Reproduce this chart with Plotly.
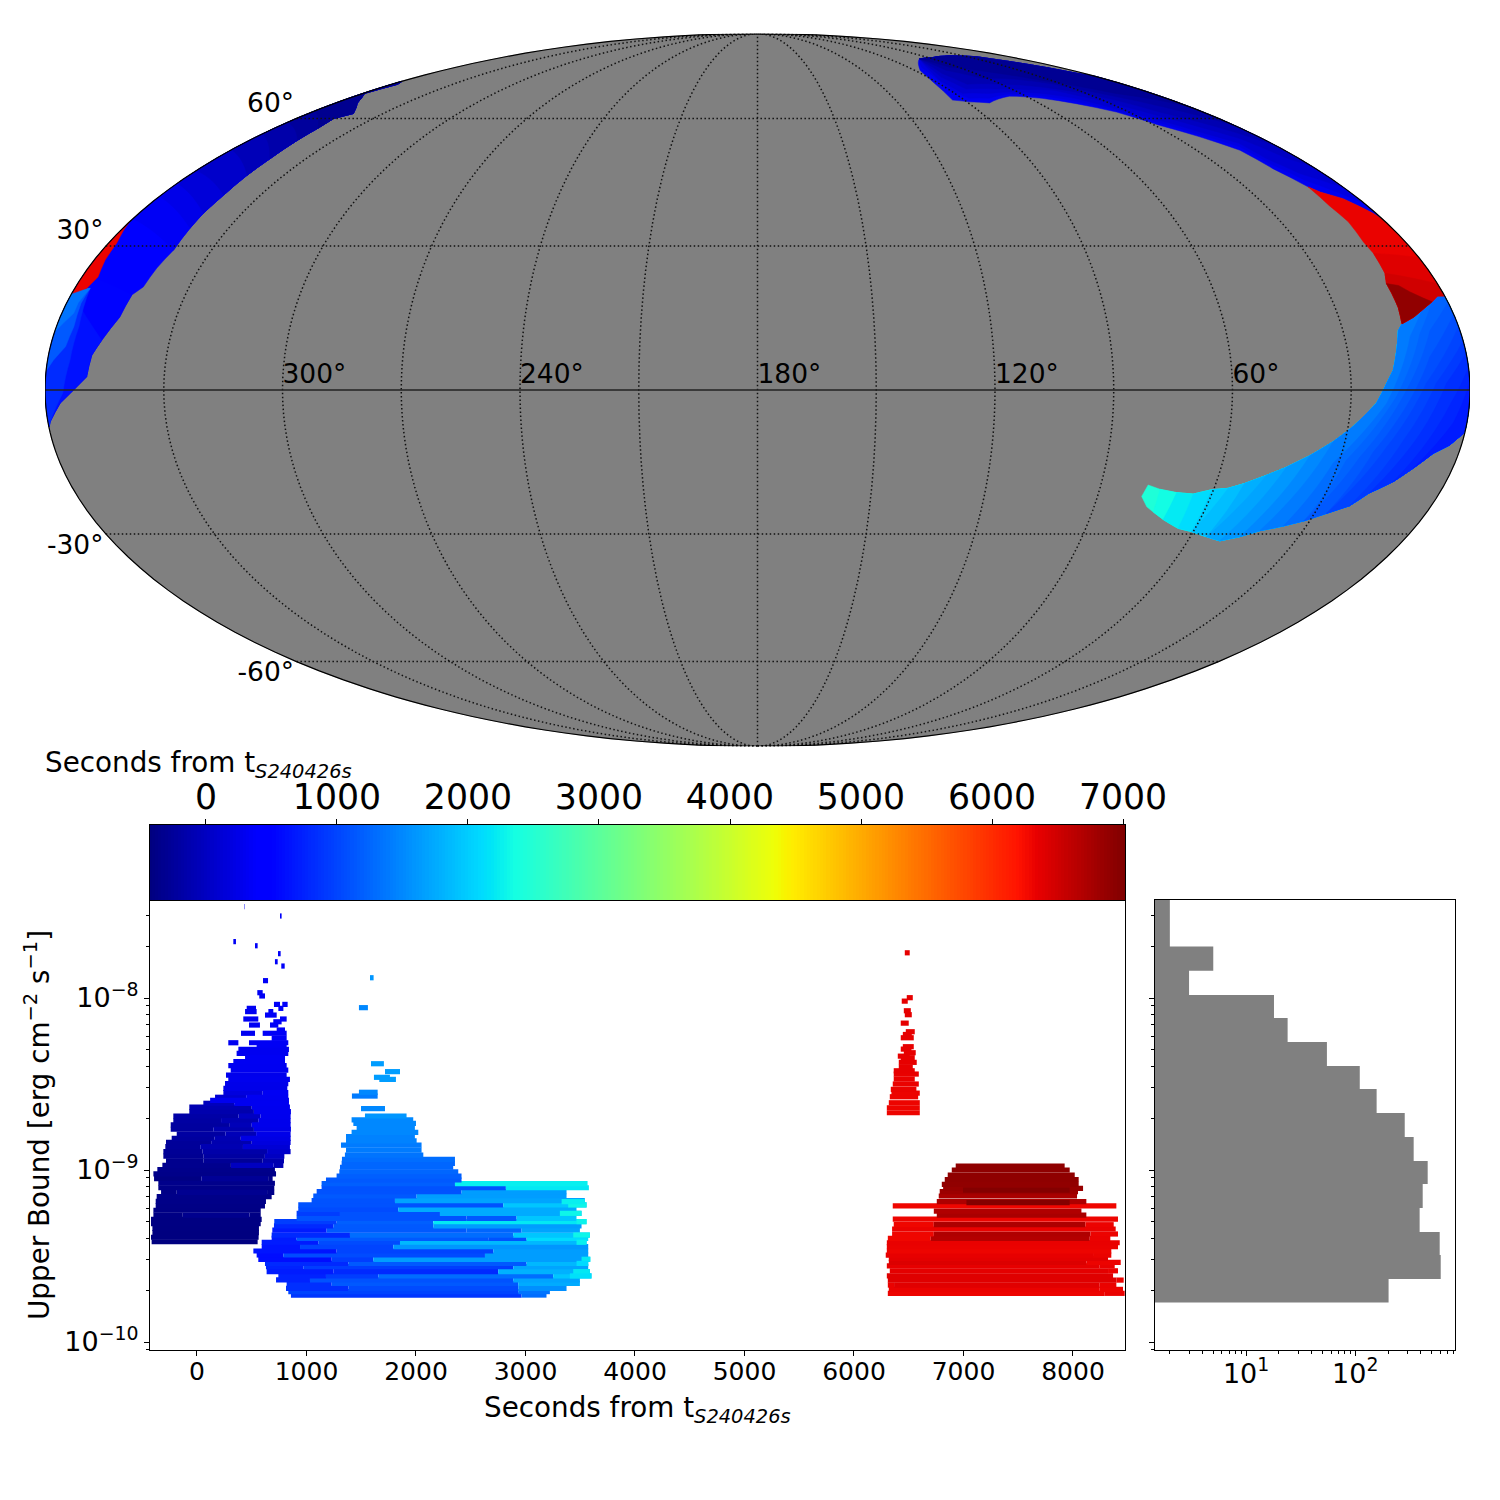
import numpy as np
import plotly.graph_objects as go
from plotly.colors import sample_colorscale

# ---------- shared scales ----------
T_MIN, T_MAX = -427, 7015
JET = [[0, "rgb(0,0,127)"], [.11, "rgb(0,0,255)"], [.125, "rgb(0,0,255)"], [.34, "rgb(0,219,255)"],
       [.35, "rgb(0,229,247)"], [.375, "rgb(21,255,226)"], [.64, "rgb(238,255,8)"], [.65, "rgb(247,245,0)"],
       [.66, "rgb(255,236,0)"], [.89, "rgb(255,19,0)"], [.91, "rgb(232,0,0)"], [1, "rgb(127,0,0)"]]
TICKS_COLORBAR = [0, 1000, 2000, 3000, 4000, 5000, 6000, 7000]
TICKS_TIME = [0, 1000, 2000, 3000, 4000, 5000, 6000, 7000, 8000]
TICKS_UB = [1e-10, 1e-9, 1e-8]
TICKTEXT_UB = ["10<sup>−10</sup>", "10<sup>−9</sup>", "10<sup>−8</sup>"]
TICKS_COUNT = [10, 100]
TICKTEXT_COUNT = ["10<sup>1</sup>", "10<sup>2</sup>"]
GRAY = "#808080"
FONT = "DejaVu Sans"

# ---------- sky map data (map longitude = 180 - RA, seconds as colour) ----------
EDGE = 179.9
# dark/bright blue ribbon upper right
ribbon_r_top = [(111, 77.9), (123.6, 78.4), (156.6, 78.7), (164.4, 77), (172, 74.8), (176.4, 72.9), (EDGE, 72)]
ribbon_r_bottom = [(EDGE, 35.9), (179.1, 37.2), (175.4, 40.5), (171, 42), (169.3, 43.2), (166.2, 47.4), (164.8, 51.9),
                   (158.7, 55.3), (151.7, 58.2), (145, 61.7), (135.3, 64), (125.2, 65.5), (112.5, 66.1), (99, 64.2),
                   (91, 64.5), (84.8, 65), (88, 70), (92.6, 73.8)]
# inner colour lines, brightest first: (seconds, line)
ribbon_r_lines = [
    (200, [(98, 75), (90, 68), (93, 65.5), (102, 65.5), (114, 66.7), (127, 66.2), (137, 64.8), (146, 62), (153.5, 58.9),
           (160, 55.9), (166.7, 52.8), (167.7, 48.6), (171, 44.8), (EDGE, 39.5)]),
    (100, [(104, 76.1), (92.9, 70.7), (93.6, 66.9), (105.7, 66.9), (116.2, 67.3), (129.9, 66.9), (139.8, 65.5),
           (147.7, 62.5), (155.5, 59.5), (161.9, 56.5), (168.6, 53.6), (169.1, 49.8), (172.5, 46.3), (EDGE, 43)]),
    (0, [(105.8, 76.4), (97, 71.8), (98.5, 68.2), (112.5, 68.2), (126.5, 68), (138.5, 67.8), (143.5, 66.4), (151.6, 63.7),
         (159, 60.6), (165.7, 57.7), (172, 54.8), (176, 50), (EDGE, 48)]),
    (-100, [(107.7, 76.8), (101.7, 72.9), (103.2, 69.6), (119.6, 69.6), (137, 68.7), (146.9, 67.3), (155.6, 65),
            (162.4, 61.7), (169.5, 59), (175.4, 56), (EDGE, 53)]),
    (-200, [(110, 77), (108, 74), (117.5, 71.4), (132.5, 71.2), (146, 69.7), (150.9, 68.2), (159.5, 66), (168.4, 63.3), (EDGE, 58)]),
    (-300, [(112, 77.3), (114.7, 75), (131.6, 73.2), (145.5, 70.7), (154.9, 69), (163.3, 66.9), (174.3, 65), (EDGE, 63)]),
]
RIBBON_R_BASE_TIME = 300

# blue ribbon upper left, inner boundary from the top
ribbon_l_inner = [(-177.1, 69.6), (-179.2, 66.9), (-170.4, 64.1), (-161.9, 61.3), (-165.4, 60), (-163.7, 57.4),
                  (-163, 54.4), (-161.9, 49.8), (-161.6, 45.9), (-161.1, 41.3), (-161.2, 37.2), (-160.9, 33.9),
                  (-160.4, 29.1), (-161.5, 25.3), (-162.1, 21.3), (-164, 19.6), (-164.6, 15), (-167.3, 10.2),
                  (-169, 7.1), (-169.6, 2.7), (-172.8, 0), (-176.3, -2.7), (-179.4, -6.5)]
# (last inner index, latitude where the band reaches the rim, seconds)
ribbon_l_bands = [(12, 36, 330), (11, 41, 250), (10, 44, 150), (9, 47, 50), (8, 52, -60), (7, 56, -150), (6, 59, -240), (5, 62, -320)]
ribbon_l_low_a = [(-175.9, 21), (-174.2, 13), (-174.3, 6.1), (-175.5, -0.6), (-179.4, -6.5)]
ribbon_l_low_b = [(-175.9, 21), (-176.2, 17.9), (-175.5, 13), (-176.1, 8.9), (-178.5, 6.1)]
ribbon_l_low_c = [(-175.9, 21), (-177, 18), (-176.9, 15.8)]
red_left = [(-179.2, 33.5), (-177.7, 30.7), (-177, 27), (-175.7, 23.4), (-176.8, 21), (-179.6, 20)]

# red patch on the right
red_right_top = [(169.3, 43.2), (171, 42), (175.4, 40.5), (179.1, 37.2), (EDGE, 35.9), (EDGE, 19.4)]
red_right_low = [(178.1, 19.4), (175.9, 18.2), (172.2, 16.4), (169.4, 15), (165.7, 13.6), (166.4, 17), (166.5, 20),
                 (166.5, 22), (167.8, 24.2), (168.5, 28.4), (168.3, 30.9), (169.3, 35.3), (168.8, 38.9)]
red_mid = [(168.5, 28.4), (EDGE, 27.5), (EDGE, 19.4), (178.1, 19.4), (175.9, 18.2), (172.2, 16.4), (169.4, 15),
           (165.7, 13.6), (166.4, 17), (166.5, 20), (166.5, 22), (167.8, 24.2)]
red_low = [(167.8, 24.2), (EDGE, 22), (EDGE, 19.4), (178.1, 19.4), (175.9, 18.2), (172.2, 16.4), (169.4, 15),
           (165.7, 13.6), (166.4, 17), (166.5, 20), (166.5, 22)]
red_dark = [(166.5, 22), (169.4, 21.6), (171.4, 20.3), (174, 19), (175.9, 18.2), (172.2, 16.4), (169.4, 15),
            (165.7, 13.6), (166.4, 17), (166.5, 20)]

# arc outline: rim, upper edge to the cyan tip, lower edge back to the rim
arc = [(EDGE, 19.4), (178.1, 19.4), (175.9, 18.2), (172.2, 16.4), (169.4, 15), (165.7, 13.6), (164.2, 12.2), (162.5, 8.1),
       (160.9, 4.1), (159, 1.4), (156.5, -2.7), (151.3, -7.5), (147, -10.6), (142, -13.5), (136.9, -15.9), (132.4, -17.6),
       (127.5, -19.3), (123.7, -20.3), (119.5, -20.6), (115.1, -21.5), (110.6, -21.2), (105.9, -20.5), (102.4, -19.6),
       (101.7, -22), (104.1, -24.2), (106.4, -25.3), (110, -26.9), (115.3, -28.8), (119.5, -29.5), (124.5, -30.6),
       (128.9, -31.5), (133.7, -30.6), (138.1, -29.3), (143.7, -28.3), (148.4, -27.2), (153.2, -25.6), (158.1, -24),
       (161.4, -21.3), (166.2, -18.9), (169.8, -16.1), (173.5, -13), (177, -11.3), (179.7, -8.9), (EDGE, -8)]
ARC_TIP_TIME = 2450
# (upper outline index, lower outline index, seconds)
arc_tip_bands = [(21, 25, 2350), (20, 26, 2215), (19, 27, 2110), (18, 28, 1990), (17, 28, 1890), (16, 29, 1780),
                 (15, 29, 1700), (14, 30, 1610), (13, 31, 1500), (12, 32, 1400)]
# (lower outline index, upper outline index or None, inner line, seconds)
arc_fan_bands = [
    (33, 3, [(166.8, 11), (159.1, -2.7), (148.6, -15)], 1300),
    (34, 2, [(169.5, 11.6), (161.5, -1.3), (151.7, -14.5)], 1225),
    (34, None, [(EDGE, 18), (172.3, 12.2), (164, 0), (154.9, -13.9)], 1150),
    (35, None, [(EDGE, 15.5), (170.6, 6.8), (162.5, -5.8), (158, -12.7)], 1075),
    (35, None, [(EDGE, 13), (169, 1.4), (161.1, -11.6)], 1000),
    (36, None, [(EDGE, 10), (171.5, 1.4), (164.9, -10.2)], 925),
    (37, None, [(EDGE, 7.5), (174.1, 1.4), (168.7, -8.9)], 850),
    (38, None, [(EDGE, 4.5), (175.3, -2.7), (172.5, -7.9)], 775),
    (39, None, [(EDGE, 1.4), (176.5, -6.8)], 700),
]

# ---------- upper bound vs time: (log10 upper bound, start, end, colour seconds) ----------
bars_early = [
    (-9.417, -414, 554, -420), (-9.391, -420, 563, -420), (-9.364, -407, 566, -420), (-9.339, -407, 566, -415),
    (-9.312, -420, 582, -410), (-9.287, -420, 591, -405), (-9.262, -398, -130, -395), (-9.262, -130, 480, -330),
    (-9.262, 480, 582, -395), (-9.234, -398, 582, -390), (-9.209, -377, 621, -380), (-9.182, -377, 630, -370),
    (-9.155, -368, 682, -360), (-9.130, -328, -185, -385), (-9.130, -185, 640, -310), (-9.130, 640, 706, -350),
    (-9.103, -353, 706, -370), (-9.077, -353, 712, -350), (-9.050, -392, 40, -400), (-9.050, 40, 650, -280),
    (-9.050, 650, 691, -350), (-9.023, -398, 722, -360), (-8.998, -362, 712, -350), (-8.973, -316, 310, -330),
    (-8.973, 310, 700, -10), (-8.973, 700, 789, -100), (-8.946, -283, 60, -330), (-8.946, 60, 600, -280),
    (-8.946, 600, 795, -120), (-8.919, -307, 60, -300), (-8.919, 60, 620, -200), (-8.919, 620, 798, 0),
    (-8.893, -307, 50, -280), (-8.893, 50, 640, -160), (-8.893, 640, 855, 60), (-8.864, -289, 30, -260),
    (-8.864, 30, 420, -100), (-8.864, 420, 849, 120), (-8.839, -283, 130, -260), (-8.839, 130, 500, -120),
    (-8.839, 500, 855, 180), (-8.816, -231, 160, -230), (-8.816, 160, 400, -100), (-8.816, 400, 855, 220),
    (-8.791, -185, 260, -200), (-8.791, 260, 540, -60), (-8.791, 540, 855, 250), (-8.763, -240, 150, -230),
    (-8.763, 150, 520, -120), (-8.763, 520, 858, 250), (-8.738, -240, 300, -220), (-8.738, 300, 500, -60),
    (-8.738, 500, 855, 270), (-8.713, -216, 220, -200), (-8.713, 220, 560, -100), (-8.713, 560, 855, 270),
    (-8.686, -216, 380, -180), (-8.686, 380, 580, 0), (-8.686, 580, 855, 280), (-8.661, -70, 520, -130),
    (-8.661, 520, 858, 290), (-8.634, -70, 500, -100), (-8.634, 500, 849, 290), (-8.612, 58, 340, -30),
    (-8.612, 340, 840, 300), (-8.595, 120, 840, 290), (-8.577, 165, 450, 100), (-8.577, 450, 834, 310), (-8.550, 241, 600, 180),
    (-8.550, 600, 834, 320), (-8.525, 241, 825, 250), (-8.498, 256, 834, 260), (-8.473, 286, 849, 280),
    (-8.448, 265, 819, 270), (-8.419, 308, 834, 300), (-8.393, 286, 819, 300), (-8.370, 332, 804, 310),
    (-8.345, 439, 804, 320), (-8.322, 362, 834, 300), (-8.298, 378, 840, 300), (-8.273, 545, 819, 320),
    (-8.260, 286, 378, 300), (-8.260, 475, 834, 330), (-8.234, 682, 819, 340), (-8.205, 402, 530, 300),
    (-8.205, 600, 819, 340), (-8.186, 728, 804, 350), (-8.157, 475, 575, 320), (-8.157, 667, 743, 350),
    (-8.138, 697, 773, 350), (-8.122, 423, 560, 310), (-8.122, 758, 819, 350), (-8.099, 621, 728, 340),
    (-8.079, 439, 545, 310), (-8.079, 652, 697, 340), (-8.060, 454, 539, 310), (-8.060, 743, 789, 350),
    (-8.037, 703, 758, 350), (-8.037, 779, 828, 360), (-7.988, 569, 621, 330), (-7.969, 551, 600, 330),
    (-7.899, 603, 649, 340), (-7.814, 770, 801, 360), (-7.789, 712, 737, 350), (-7.742, 740, 764, 350),
    (-7.696, 530, 554, 340), (-7.672, 332, 356, 320), (-7.523, 758, 773, 360), (-7.469, 432, 436, 330),
]
bars_middle = [
    (-9.727, 858, 2964, 900), (-9.727, 2964, 3192, 1300), (-9.707, 834, 2934, 1000), (-9.707, 2934, 3223, 1350),
    (-9.688, 813, 1382, 850), (-9.688, 1382, 2934, 1050), (-9.688, 2934, 3375, 1550), (-9.659, 819, 1230, 850),
    (-9.659, 1230, 2934, 1150), (-9.659, 2934, 3497, 1750), (-9.639, 722, 1032, 750), (-9.639, 1032, 2888, 1100),
    (-9.639, 2888, 3497, 1700), (-9.616, 743, 1178, 750), (-9.616, 1178, 1656, 950), (-9.616, 1656, 3253, 1300),
    (-9.616, 3253, 3603, 1950), (-9.591, 636, 1245, 700), (-9.591, 1245, 2751, 800), (-9.591, 2751, 3588, 1800),
    (-9.562, 630, 971, 750), (-9.562, 971, 2888, 950), (-9.562, 2888, 3573, 1700), (-9.543, 621, 1382, 800),
    (-9.543, 1382, 3010, 1150), (-9.543, 3010, 3573, 1850), (-9.519, 560, 1230, 600), (-9.519, 1230, 1610, 950),
    (-9.519, 1610, 3588, 1650), (-9.494, 545, 788, 600), (-9.494, 788, 2630, 1050), (-9.494, 2630, 3573, 1650),
    (-9.471, 515, 1275, 650), (-9.471, 1275, 2706, 1000), (-9.471, 2706, 3573, 1650), (-9.446, 591, 941, 650),
    (-9.446, 941, 1793, 1000), (-9.446, 1793, 3573, 1600), (-9.420, 591, 1108, 700), (-9.420, 1108, 1854, 1050),
    (-9.420, 1854, 3558, 1850), (-9.397, 682, 910, 700), (-9.397, 910, 2660, 1150), (-9.397, 2660, 3010, 1100),
    (-9.397, 3010, 3573, 2100), (-9.378, 682, 1397, 800), (-9.378, 1397, 2888, 1300), (-9.378, 2888, 3588, 1950),
    (-9.349, 688, 1184, 700), (-9.349, 1184, 2462, 1150), (-9.349, 2462, 2964, 1250), (-9.349, 2964, 3497, 1700),
    (-9.325, 703, 1245, 800), (-9.325, 1245, 2158, 1150), (-9.325, 2158, 3512, 1650), (-9.300, 706, 1275, 950),
    (-9.300, 1275, 2158, 1200), (-9.300, 2158, 3558, 2200), (-9.281, 910, 2462, 1100), (-9.281, 2462, 2919, 1150),
    (-9.281, 2919, 3466, 1950), (-9.252, 910, 1306, 950), (-9.252, 1306, 2219, 1100), (-9.252, 2219, 3512, 1750),
    (-9.229, 925, 1838, 1050), (-9.229, 1838, 3466, 1750), (-9.203, 925, 2797, 1100), (-9.203, 2797, 3558, 1950),
    (-9.178, 1047, 1808, 1100), (-9.178, 1808, 3542, 1700), (-9.151, 1062, 2006, 1150), (-9.151, 2006, 3375, 1650),
    (-9.126, 1093, 2416, 1100), (-9.126, 2416, 3375, 1650), (-9.103, 1138, 2821, 1100), (-9.103, 2821, 3579, 2200),
    (-9.079, 1138, 2356, 1200), (-9.079, 2356, 3567, 2250), (-9.058, 1178, 2416, 1150), (-9.035, 1275, 2416, 1200),
    (-9.010, 1300, 2386, 1250), (-8.984, 1306, 2340, 1250), (-8.961, 1321, 2356, 1250), (-8.938, 1324, 2356, 1300),
    (-8.913, 1351, 2067, 1350), (-8.884, 1361, 2051, 1400), (-8.855, 1315, 2051, 1400), (-8.831, 1361, 2006, 1450),
    (-8.806, 1361, 1990, 1450), (-8.781, 1412, 2021, 1500), (-8.752, 1458, 1990, 1500), (-8.729, 1428, 2000, 1500),
    (-8.709, 1412, 1975, 1500), (-8.686, 1534, 1914, 1600), (-8.643, 1498, 1717, 1500), (-8.570, 1415, 1650, 1400),
    (-8.548, 1479, 1650, 1500), (-8.473, 1665, 1817, 1650), (-8.461, 1616, 1762, 1650), (-8.428, 1717, 1854, 1650),
    (-8.382, 1589, 1707, 1650), (-8.056, 1479, 1561, 1500), (-7.882, 1580, 1613, 1600),
]
bars_middle_tips = [
    (-9.203, 3390, 3558, 2300), (-9.184, 3330, 3542, 2250), (-9.252, 3314, 3512, 2300), (-9.300, 3466, 3558, 2280),
    (-9.378, 3436, 3588, 2300), (-9.420, 3466, 3558, 2250), (-9.519, 3512, 3594, 2200), (-9.591, 3436, 3588, 2200),
    (-9.616, 3405, 3603, 2150), (-9.543, 3466, 3573, 2100),
]
bars_late_top = [
    (-8.667, 6300, 6601, 6310), (-8.638, 6300, 6601, 6310), (-8.609, 6318, 6601, 6315), (-8.574, 6327, 6586, 6320),
    (-8.553, 6342, 6601, 6320), (-8.531, 6336, 6570, 6330), (-8.500, 6354, 6592, 6330), (-8.471, 6363, 6555, 6340),
    (-8.442, 6363, 6592, 6340), (-8.423, 6363, 6555, 6350), (-8.403, 6409, 6537, 6350), (-8.374, 6409, 6573, 6350),
    (-8.347, 6427, 6555, 6350), (-8.338, 6400, 6509, 6350), (-8.318, 6455, 6564, 6350), (-8.297, 6427, 6525, 6350),
    (-8.283, 6446, 6546, 6350), (-8.231, 6427, 6546, 6360), (-8.212, 6446, 6528, 6360), (-8.196, 6473, 6555, 6360),
    (-8.146, 6427, 6500, 6360), (-8.097, 6464, 6528, 6360), (-8.074, 6455, 6519, 6360), (-8.018, 6436, 6491, 6360),
    (-7.998, 6482, 6537, 6360), (-7.737, 6464, 6509, 6360),
]
bars_late_low = [
    (-9.717, 6309, 8290, 6310), (-9.717, 8290, 8472, 6330), (-9.694, 6318, 8244, 6330), (-9.694, 8244, 8457, 6320),
    (-9.669, 6366, 8244, 6390), (-9.669, 6309, 6366, 6330), (-9.669, 8244, 8396, 6330), (-9.640, 6309, 8396, 6400),
    (-9.640, 8396, 8463, 6320), (-9.615, 6300, 8366, 6400), (-9.586, 6327, 8320, 6370), (-9.586, 8320, 8411, 6330),
    (-9.557, 6300, 8244, 6360), (-9.557, 8244, 8381, 6340), (-9.537, 6318, 8122, 6420), (-9.537, 8122, 8436, 6320),
    (-9.514, 6318, 8320, 6380), (-9.495, 6290, 8183, 6350), (-9.495, 8183, 8350, 6330), (-9.471, 6300, 8350, 6310),
    (-9.446, 6300, 8411, 6330), (-9.423, 6300, 8427, 6340), (-9.398, 6309, 6701, 6300), (-9.398, 6701, 8153, 6680),
    (-9.398, 8153, 8341, 6330), (-9.372, 6348, 6729, 6300), (-9.372, 6729, 8159, 6700), (-9.372, 8159, 8411, 6320),
    (-9.343, 6348, 8390, 6330), (-9.318, 6363, 6729, 6300), (-9.318, 6729, 8113, 6720), (-9.318, 8113, 8372, 6320),
    (-9.285, 6354, 8411, 6310), (-9.262, 6756, 8122, 6750), (-9.239, 6729, 8077, 6700), (-9.208, 6354, 8396, 6300),
    (-9.184, 6756, 8122, 6720), (-9.190, 7027, 7970, 6990), (-9.151, 6774, 8037, 6750), (-9.126, 6783, 8046, 6830),
    (-9.107, 6814, 8092, 6860), (-9.117, 6996, 7970, 6980), (-9.084, 6802, 8052, 6900), (-9.055, 6829, 8052, 6910),
    (-9.029, 6856, 8016, 6910), (-9.000, 6893, 7970, 6910), (-8.977, 6929, 7924, 6910),
]

# ---------- histogram ----------
hist_log_edges = [-9.771, -9.634, -9.494, -9.360, -9.221, -9.081, -8.948, -8.808, -8.668, -8.529, -8.395, -8.256,
                  -8.116, -7.982, -7.841, -7.701, -7.562, -7.422]
hist_counts = [202, 607, 594, 389, 415, 461, 343, 284, 157, 110, 55, 24, 18, 3, 5, 2, 2]

# ---------- graticule ----------
MERIDIANS = [-150, -120, -90, -60, -30, 0, 30, 60, 90, 120, 150]
PARALLELS = [-60, -30, 30, 60]
LON_LABELS = [(-120, "300°"), (-60, "240°"), (0, "180°"), (60, "120°"), (120, "60°")]
LAT_LABELS = [(60, "60°\u200a", "top left"), (30, "30°\u200a", "top left"), (-30, "-30°\u200a", "bottom left"), (-60, "-60°\u200a", "bottom left")]


def colour(t):
    return sample_colorscale(JET, [min(1, max(0, (t - T_MIN) / (T_MAX - T_MIN)))])[0]


fig = go.Figure()


def clockwise(pts):
    area = sum((pts[(i + 1) % len(pts)][0] - pts[i][0]) * (pts[(i + 1) % len(pts)][1] + pts[i][1]) for i in range(len(pts)))
    return pts if area > 0 else pts[::-1]


def poly(pts, t=None, col=None):
    pts = clockwise(list(pts))
    pts = pts + [pts[0]]
    c = col or colour(t)
    fig.add_trace(go.Scattergeo(lon=[p[0] for p in pts], lat=[p[1] for p in pts], mode="lines", fill="toself",
                                fillcolor=c, line=dict(color=c, width=0.5), hoverinfo="skip", showlegend=False))


# gray sky
lons = list(range(-170, 180, 10))
globe = ([(-179.99, 89.9)] + [(x, 89.9) for x in lons] + [(179.99, 89.9)] + [(179.99, y) for y in range(80, -90, -10)]
         + [(179.99, -89.9)] + [(x, -89.9) for x in lons[::-1]] + [(-179.99, -89.9)]
         + [(-179.99, y) for y in range(-80, 90, 10)])
poly(globe, col=GRAY)

# upper right ribbon
poly(ribbon_r_top + ribbon_r_bottom, RIBBON_R_BASE_TIME)
for t, line in ribbon_r_lines:
    poly(ribbon_r_top + line[::-1], t)

# upper left ribbon
rim_l = -EDGE
poly([(rim_l, 70.5)] + ribbon_l_inner + [(rim_l, -7.5)], 420)
for last, rim_lat, t in ribbon_l_bands:
    poly([(rim_l, 70.5)] + ribbon_l_inner[:last + 1] + [(rim_l, rim_lat)], t)
poly(ribbon_l_inner[15:] + [(rim_l, -7.5), (rim_l, 24)], 520)
poly(ribbon_l_inner[17:] + [(rim_l, -7.5), (rim_l, 20)], 620)
poly(ribbon_l_low_a + [(rim_l, -7.5), (rim_l, 20.5)], 820)
poly(ribbon_l_low_b + [(rim_l, 4), (rim_l, 20.5)], 1150)
poly(ribbon_l_low_c + [(rim_l, 12), (rim_l, 20.5)], 1350)
poly([(rim_l, 35.3)] + red_left + [(rim_l, 20)], 6320)

# arc
poly(arc, ARC_TIP_TIME)
for u, l, t in arc_tip_bands:
    poly(arc[l:] + arc[:u + 1], t)
for l, u, inner, t in arc_fan_bands:
    if u is None:
        poly(arc[l:] + inner, t)
    else:
        poly(arc[l:] + arc[:u + 1] + inner, t)

# red patch right
poly(red_right_top + red_right_low, 6330)
poly(red_mid, 6400)
poly(red_low, 6500)
poly(red_dark, 6900)

# graticule above the fills
lat_run = list(range(-90, 91, 10))
lon_run = list(range(-180, 181, 5))
GRID = dict(color="#111111", width=1.5, dash="1.5px,2.5px")
for m in MERIDIANS:
    fig.add_trace(go.Scattergeo(lon=[m] * len(lat_run), lat=lat_run, mode="lines", hoverinfo="skip", showlegend=False, line=GRID))
for p in PARALLELS:
    fig.add_trace(go.Scattergeo(lon=[max(-179.99, min(179.99, x)) for x in lon_run], lat=[p] * len(lon_run), mode="lines",
                                hoverinfo="skip", showlegend=False, line=GRID))
fig.add_trace(go.Scattergeo(lon=[max(-179.99, min(179.99, x)) for x in lon_run], lat=[0] * len(lon_run), mode="lines",
                            hoverinfo="skip", showlegend=False, line=dict(color="#222222", width=1.6)))
# rim
fig.add_trace(go.Scattergeo(lon=[179.99] * len(lat_run), lat=lat_run, mode="lines", hoverinfo="skip", showlegend=False,
                            line=dict(color="black", width=1.2)))
fig.add_trace(go.Scattergeo(lon=[-179.99] * len(lat_run), lat=lat_run, mode="lines", hoverinfo="skip", showlegend=False,
                            line=dict(color="black", width=1.2)))
# labels
fig.add_trace(go.Scattergeo(lon=[v[0] for v in LON_LABELS], lat=[0] * len(LON_LABELS), mode="text",
                            text=[v[1] for v in LON_LABELS], textposition="top right", hoverinfo="skip", showlegend=False,
                            textfont=dict(family=FONT, size=26.5, color="black")))
for lat, txt, pos in LAT_LABELS:
    fig.add_trace(go.Scattergeo(lon=[-179.9], lat=[lat], mode="text", text=[txt], textposition=pos, hoverinfo="skip",
                                showlegend=False, textfont=dict(family=FONT, size=26.5, color="black")))

# bars
for row in sorted(bars_early, key=lambda r: r[3]) + bars_middle + bars_middle_tips + bars_late_top + bars_late_low:
    fig.add_trace(go.Scatter(x=[row[1], row[2]], y=[10 ** row[0], 10 ** row[0]], mode="lines", xaxis="x", yaxis="y",
                             line=dict(color=colour(row[3]), width=5.2), hoverinfo="skip", showlegend=False))

# colour strip
strip_x = np.linspace(T_MIN, T_MAX, 300)
fig.add_trace(go.Heatmap(x=strip_x, y=[0, 1], z=[list(strip_x), list(strip_x)], colorscale=JET, zmin=T_MIN, zmax=T_MAX,
                         showscale=False, xaxis="x2", yaxis="y2", hoverinfo="skip"))

# histogram as a filled step outline
hx, hy = [0.5], [10 ** hist_log_edges[0]]
for i, n in enumerate(hist_counts):
    hx += [n, n]
    hy += [10 ** hist_log_edges[i], 10 ** hist_log_edges[i + 1]]
hx += [0.5]
hy += [10 ** hist_log_edges[-1]]
fig.add_trace(go.Scatter(x=hx, y=hy, mode="lines", fill="toself", fillcolor=GRAY, line=dict(color=GRAY, width=0),
                         xaxis="x3", yaxis="y3", hoverinfo="skip", showlegend=False))

frame_axis = dict(showline=True, linecolor="black", linewidth=1.2, mirror=True, ticks="outside", tickcolor="black",
                  tickwidth=1.1, ticklen=5, showgrid=False, zeroline=False, tickfont=dict(family=FONT, size=25, color="black"))
big_tick = dict(family=FONT, size=27, color="black")
minor = dict(ticks="outside", ticklen=3, tickwidth=0.9, tickcolor="black", showgrid=False, dtick="D1")
Y_RANGE = [-10.0465, -7.43]
LABEL = dict(family=FONT, size=27.8, color="black")
LABEL_TIME = "Seconds from t<sub><i>S240426s</i></sub>"

fig.update_layout(
    width=1500, height=1500, autosize=False, margin=dict(l=0, r=0, t=0, b=0, autoexpand=False), paper_bgcolor="white",
    plot_bgcolor="white", showlegend=False, font=dict(family=FONT, color="black"),
    geo=dict(domain=dict(x=[45 / 1500, 1470 / 1500], y=[1 - 747 / 1500, 1 - 33 / 1500]),
             projection=dict(type="mollweide"), bgcolor="rgba(0,0,0,0)", showland=False, showocean=False, showlakes=False,
             showcountries=False, showcoastlines=False, showrivers=False, showsubunits=False, showframe=False,
             lonaxis=dict(showgrid=False), lataxis=dict(showgrid=False)),
    xaxis=dict(frame_axis, domain=[.1, .75], range=[-429, 8475], tickvals=TICKS_TIME, anchor="y", ticklabelstandoff=-6),
    yaxis=dict(frame_axis, domain=[.1, .4], type="log", range=Y_RANGE, tickvals=TICKS_UB, ticktext=TICKTEXT_UB, anchor="x",
               minor=minor, tickfont=big_tick),
    xaxis2=dict(frame_axis, domain=[.1, .75], range=[T_MIN, T_MAX], side="top", tickvals=TICKS_COLORBAR, anchor="y2",
                tickfont=dict(family=FONT, size=34.7, color="black"), ticklabelstandoff=-4),
    yaxis2=dict(domain=[.4, .45], range=[0, 1], showticklabels=False, ticks="", showline=True, mirror=True, linecolor="black",
                linewidth=1.2, showgrid=False, zeroline=False, anchor="x2"),
    xaxis3=dict(frame_axis, domain=[.77, .97], type="log", range=[.165, 2.914], tickvals=TICKS_COUNT, ticktext=TICKTEXT_COUNT,
                anchor="y3", minor=minor, tickfont=big_tick, ticklabelstandoff=-6),
    yaxis3=dict(frame_axis, domain=[.1, .4], type="log", range=Y_RANGE, tickvals=TICKS_UB, showticklabels=False, anchor="x3", minor=minor),
    annotations=[
        dict(text=LABEL_TIME, x=637 / 1500, y=1 - 1409 / 1500, xref="paper", yref="paper", xanchor="center", yanchor="middle",
             showarrow=False, font=LABEL),
        dict(text=LABEL_TIME, x=43 / 1500, y=1 - 764 / 1500, xref="paper", yref="paper", xanchor="left", yanchor="middle",
             showarrow=False, font=LABEL),
        dict(text="Upper Bound [erg cm<sup>−2</sup> s<sup>−1</sup>]", x=37 / 1500, y=1 - 1125 / 1500, xref="paper", yref="paper",
             xanchor="center", yanchor="middle", textangle=-90, showarrow=False, font=LABEL),
    ],
)
fig.write_html("out.html", post_script="document.body.style.margin='0';", config=dict(displayModeBar=False))
